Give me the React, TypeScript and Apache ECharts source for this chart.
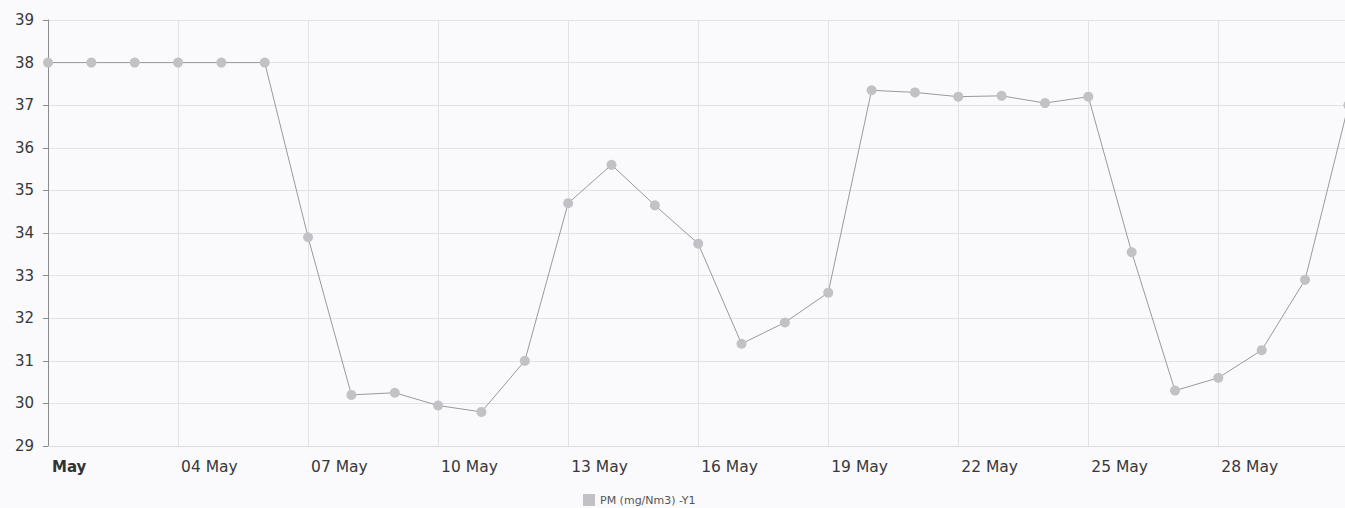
import React, { useEffect, useRef } from "react";
import * as echarts from "echarts";

const days: string[] = [
  "01 May", "02 May", "03 May", "04 May", "05 May", "06 May", "07 May", "08 May",
  "09 May", "10 May", "11 May", "12 May", "13 May", "14 May", "15 May", "16 May",
  "17 May", "18 May", "19 May", "20 May", "21 May", "22 May", "23 May", "24 May",
  "25 May", "26 May", "27 May", "28 May", "29 May", "30 May", "31 May",
];

const pmValues: number[] = [
  38.0, 38.0, 38.0, 38.0, 38.0, 38.0, 33.9, 30.2,
  30.25, 29.95, 29.8, 31.0, 34.7, 35.6, 34.65, 33.75,
  31.4, 31.9, 32.6, 37.35, 37.3, 37.2, 37.22, 37.05,
  37.2, 33.55, 30.3, 30.6, 31.25, 32.9, 37.0,
];

const seriesName = "PM (mg/Nm3) -Y1";
const yMin = 29;
const yMax = 39;

export default function App() {
  const ref = useRef<HTMLDivElement>(null);

  useEffect(() => {
    document.body.style.margin = "0";
    if (!ref.current) return;
    const chart = echarts.init(ref.current, undefined, { renderer: "svg" });
    const font = "'DejaVu Sans', Verdana, sans-serif";
    chart.setOption({
      animation: false,
      backgroundColor: "#fafafc",
      grid: {
        left: 48,
        top: 20,
        bottom: 62,
        right: -3.4,
        containLabel: false,
        outerBoundsMode: "none",
      },
      legend: {
        data: [{ name: seriesName, icon: "rect" }],
        left: 578,
        top: 489,
        itemWidth: 12,
        itemHeight: 12,
        itemGap: 6,
        textStyle: { fontFamily: font, fontSize: 11, color: "#555" },
      },
      xAxis: {
        type: "category",
        data: days,
        boundaryGap: false,
        axisLine: { show: true, lineStyle: { color: "#dcdcdc", width: 1 } },
        axisTick: { show: false },
        axisLabel: {
          interval: 2,
          align: "left",
          margin: 13,
          padding: [0, 0, 0, 3],
          fontFamily: font,
          fontSize: 15.5,
          color: "#383838",
          formatter: (v: string, i: number) =>
            i === 0 ? "{b|May}" : i === days.length - 1 ? "" : v,
          rich: {
            b: { fontFamily: font, fontSize: 15, fontWeight: "bold", color: "#333", padding: [0, 0, 0, 1] },
          },
        },
        splitLine: {
          show: true,
          interval: 2,
          lineStyle: { color: "#e2e2e6", width: 1 },
        },
      },
      yAxis: {
        type: "value",
        min: yMin,
        max: yMax,
        interval: 1,
        axisLine: { show: true, lineStyle: { color: "#8c8c8c", width: 1 } },
        axisTick: { show: true, length: 5, lineStyle: { color: "#8c8c8c" } },
        axisLabel: {
          margin: 14,
          fontFamily: font,
          fontSize: 15,
          color: "#383838",
        },
        splitLine: { show: true, lineStyle: { color: "#e2e2e6", width: 1 } },
      },
      series: [
        {
          name: seriesName,
          type: "line",
          data: pmValues,
          symbol: "circle",
          symbolSize: 10,
          showAllSymbol: true,
          clip: false,
          itemStyle: { color: "#c2c2c6" },
          lineStyle: { color: "#9a9a9e", width: 1 },
        },
      ],
    });
    return () => chart.dispose();
  }, []);

  return <div ref={ref} style={{ width: 1345, height: 508 }} />;
}
